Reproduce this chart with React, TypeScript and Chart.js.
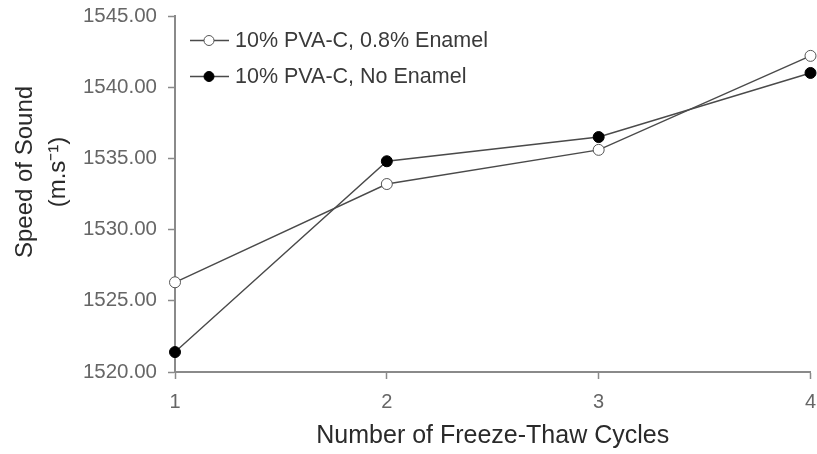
import React, { useEffect, useRef } from "react";
import { Chart, registerables } from "chart.js";

Chart.register(...registerables);

const cycles = ["1", "2", "3", "4"];
const enamelSeries = [1526.3, 1533.2, 1535.6, 1542.2];
const noEnamelSeries = [1521.4, 1534.8, 1536.5, 1541.0];
const seriesNames = ["10% PVA-C, 0.8% Enamel", "10% PVA-C, No Enamel"];
const xTitle = "Number of Freeze-Thaw Cycles";
const yTitleLines = ["Speed of Sound", "(m.s\u207B\u00B9)"];

const FONT = "'Liberation Sans', Arial, sans-serif";
const LINE = "#4a4a4a";
const AXIS = "#8a8a8a";

const overlayPlugin = {
  id: "overlay",
  afterDraw(chart: any) {
    const ctx = chart.ctx as CanvasRenderingContext2D;
    const area = chart.chartArea;
    ctx.save();
    ctx.fillStyle = "#2a2a2a";
    ctx.font = `24px ${FONT}`;
    ctx.textAlign = "center";
    ctx.textBaseline = "middle";
    const cy = 172;
    const xs = [25, 58];
    yTitleLines.forEach((t, i) => {
      ctx.save();
      ctx.translate(xs[i], cy);
      ctx.rotate(-Math.PI / 2);
      ctx.fillText(t, 0, 0);
      ctx.restore();
    });
    ctx.font = `25px ${FONT}`;
    ctx.textBaseline = "alphabetic";
    ctx.fillText(xTitle, (area.left + area.right) / 2, 443);

    const rows = [40.5, 76.5];
    const filled = [false, true];
    rows.forEach((ry, i) => {
      ctx.strokeStyle = LINE;
      ctx.lineWidth = 1.5;
      ctx.beginPath();
      ctx.moveTo(190, ry);
      ctx.lineTo(229, ry);
      ctx.stroke();
      ctx.beginPath();
      ctx.arc(209, ry, 5, 0, Math.PI * 2);
      ctx.fillStyle = filled[i] ? "#000000" : "#ffffff";
      ctx.fill();
      ctx.lineWidth = 1;
      ctx.strokeStyle = filled[i] ? "#000000" : "#555555";
      ctx.stroke();
      ctx.fillStyle = "#3a3a3a";
      ctx.font = `21.5px ${FONT}`;
      ctx.textAlign = "left";
      ctx.textBaseline = "middle";
      ctx.fillText(seriesNames[i], 235, ry + 1);
    });
    ctx.restore();
  },
};

export default function App() {
  const ref = useRef<HTMLCanvasElement>(null);
  useEffect(() => {
    if (!ref.current) return;
    const chart = new Chart(ref.current, {
      type: "line",
      data: {
        labels: cycles,
        datasets: [
          {
            label: seriesNames[0],
            data: enamelSeries,
            borderColor: LINE,
            borderWidth: 1.4,
            pointRadius: 5.5,
            pointBackgroundColor: "#ffffff",
            pointBorderColor: "#555555",
            pointBorderWidth: 1,
            clip: false as any,
            tension: 0,
          },
          {
            label: seriesNames[1],
            data: noEnamelSeries,
            borderColor: LINE,
            borderWidth: 1.4,
            pointRadius: 5.5,
            pointBackgroundColor: "#000000",
            pointBorderColor: "#000000",
            pointBorderWidth: 1,
            clip: false as any,
            tension: 0,
          },
        ],
      },
      options: {
        responsive: false,
        animation: false,
        layout: { padding: { top: 16, right: 5, left: 0, bottom: 0 } },
        plugins: {
          legend: { display: false },
          tooltip: { enabled: false },
        },
        scales: {
          x: {
            type: "category",
            offset: false,
            grid: {
              display: true,
              drawOnChartArea: false,
              drawTicks: true,
              tickLength: 7,
              tickWidth: 1.5,
              color: AXIS,
              offset: false,
            },
            border: { display: true, color: AXIS, width: 2 },
            ticks: {
              color: "#666666",
              font: { family: FONT, size: 20 },
              padding: 11,
              maxRotation: 0,
            },
            afterFit(scale: any) {
              scale.height = 454 - 372;
              scale.paddingRight = 0;
              scale.paddingLeft = 0;
            },
          },
          y: {
            min: 1520,
            max: 1545,
            grid: {
              display: true,
              drawOnChartArea: false,
              drawTicks: true,
              tickLength: 7,
              tickWidth: 1.5,
              color: AXIS,
            },
            border: { display: true, color: AXIS, width: 2 },
            ticks: {
              stepSize: 5,
              color: "#666666",
              font: { family: FONT, size: 20.5 },
              padding: 11,
              callback: (v: any) => Number(v).toFixed(2),
            },
            afterFit(scale: any) {
              scale.width = 175;
              scale.paddingTop = 0;
              scale.paddingBottom = 0;
            },
          },
        },
      },
      plugins: [overlayPlugin],
    });
    return () => chart.destroy();
  }, []);
  return (
    <div style={{ position: "fixed", left: 0, top: 0, width: 817, height: 454, background: "#fff" }}>
      <canvas ref={ref} width={817} height={454} />
    </div>
  );
}
